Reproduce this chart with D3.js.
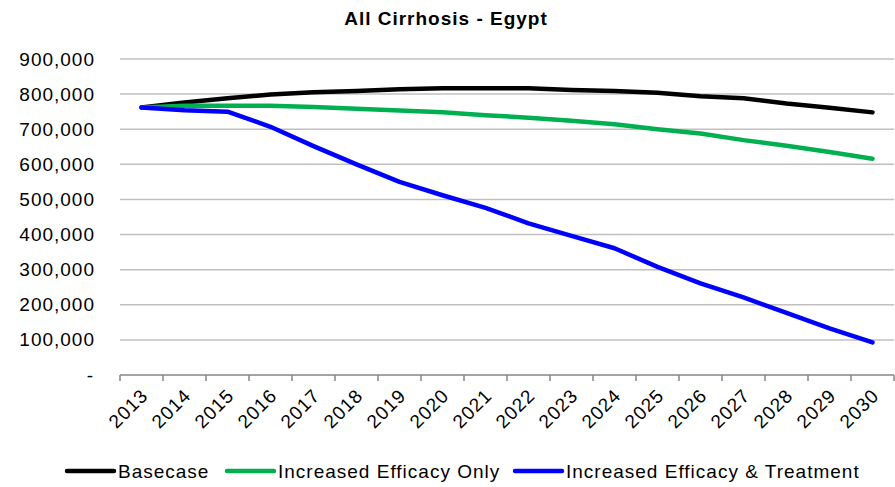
<!DOCTYPE html>
<html>
<head>
<meta charset="utf-8">
<script src="https://cdn.jsdelivr.net/npm/d3@7"></script>
<style>
  html, body { margin: 0; padding: 0; background: #fff; }
  svg { display: block; font-family: "Liberation Sans", Arial, sans-serif; }
</style>
</head>
<body>
<svg id="chart" width="895" height="487"></svg>
<script>
// Cirrhosis cases in Egypt, 2013–2030, under three scenarios
const years = ["2013","2014","2015","2016","2017","2018","2019","2020","2021",
               "2022","2023","2024","2025","2026","2027","2028","2029","2030"];

const basecase = [762000, 776000, 788000, 799000, 805000, 809000, 814000, 817000, 817000,
                  817000, 812000, 809000, 804000, 794000, 788000, 773000, 761000, 748000];

const efficacyOnly = [762000, 767000, 767000, 767000, 763000, 758000, 753000, 748000, 740000,
                      733000, 724000, 714000, 700000, 688000, 669000, 653000, 635000, 616000];

const efficacyTreatment = [762000, 754000, 750000, 707000, 652000, 600000, 550000, 512000, 476000,
                           432000, 396000, 361000, 308000, 261000, 221000, 177000, 133000, 93000];

const yTicks = [0, 100000, 200000, 300000, 400000, 500000, 600000, 700000, 800000, 900000];

const seriesNames = ["Basecase", "Increased Efficacy Only", "Increased Efficacy & Treatment"];
const seriesColors = ["#000000", "#00B050", "#0000FF"];

const series = [basecase, efficacyOnly, efficacyTreatment].map((values, i) => ({
  name: seriesNames[i],
  color: seriesColors[i],
  values
}));

const svg = d3.select("#chart");
const margin = { left: 120, right: 1, top: 59, bottom: 112 };
const W = 895, H = 487;

const x = d3.scaleBand().domain(years).range([margin.left, W - margin.right]);
const y = d3.scaleLinear().domain([0, 900000]).range([H - margin.bottom, margin.top]);

// Title
svg.append("text")
  .attr("x", 446).attr("y", 25)
  .attr("text-anchor", "middle")
  .style("font-size", "19px").style("font-weight", "bold")
  .style("letter-spacing", "1px")
  .text("All Cirrhosis - Egypt");

// Horizontal gridlines
svg.append("g")
  .selectAll("line")
  .data(yTicks.filter(d => d > 0))
  .join("line")
  .attr("x1", margin.left).attr("x2", W - margin.right)
  .attr("y1", d => y(d)).attr("y2", d => y(d))
  .attr("stroke", "#c0c0c0").attr("stroke-width", 1.5);

// Y axis labels
const yAxis = d3.axisLeft(y)
  .tickValues(yTicks)
  .tickSize(0)
  .tickPadding(0)
  .tickFormat(d => d === 0 ? "-" : d3.format(",")(d));

const yg = svg.append("g")
  .attr("transform", `translate(${margin.left - 25},0)`)
  .call(yAxis);
yg.select(".domain").remove();
yg.selectAll("text")
  .style("font-size", "19px")
  .style("letter-spacing", "1px")
  .attr("fill", "#000")
  .attr("dx", d => d === 0 ? "-1" : "0");

// X axis with tick marks on category boundaries
const xAxisY = y(0);
svg.append("line")
  .attr("x1", margin.left).attr("x2", W - margin.right)
  .attr("y1", xAxisY).attr("y2", xAxisY)
  .attr("stroke", "#868686").attr("stroke-width", 1.5);

const boundaries = years.map(d => x(d)).concat([x(years[years.length - 1]) + x.bandwidth()]);
svg.append("g")
  .selectAll("line")
  .data(boundaries)
  .join("line")
  .attr("x1", d => d).attr("x2", d => d)
  .attr("y1", xAxisY).attr("y2", xAxisY + 6)
  .attr("stroke", "#868686").attr("stroke-width", 1.5);

svg.append("g")
  .selectAll("text")
  .data(years)
  .join("text")
  .attr("transform", d => `translate(${x(d) + x.bandwidth() / 2 + 3},${xAxisY + 17}) rotate(-45)`)
  .attr("text-anchor", "end")
  .attr("dy", "0.35em")
  .style("font-size", "19px")
  .style("letter-spacing", "1px")
  .text(d => d);

// Series lines
const line = d3.line()
  .x((d, i) => x(years[i]) + x.bandwidth() / 2)
  .y(d => y(d));

svg.append("g")
  .selectAll("path")
  .data(series)
  .join("path")
  .attr("d", d => line(d.values))
  .attr("fill", "none")
  .attr("stroke", d => d.color)
  .attr("stroke-width", 4.5)
  .attr("stroke-linejoin", "round")
  .attr("stroke-linecap", "round");

// Legend
const legendX = [67, 227, 515];
const legendY = 471;
const lg = svg.append("g")
  .selectAll("g")
  .data(series)
  .join("g")
  .attr("transform", (d, i) => `translate(${legendX[i]},${legendY})`);
lg.append("line")
  .attr("x1", 0).attr("x2", 47)
  .attr("stroke", d => d.color)
  .attr("stroke-width", 4.5)
  .attr("stroke-linecap", "round");
lg.append("text")
  .attr("x", 51).attr("dy", "0.35em")
  .style("font-size", "19px")
  .style("letter-spacing", "1px")
  .text(d => d.name);
</script>
</body>
</html>
